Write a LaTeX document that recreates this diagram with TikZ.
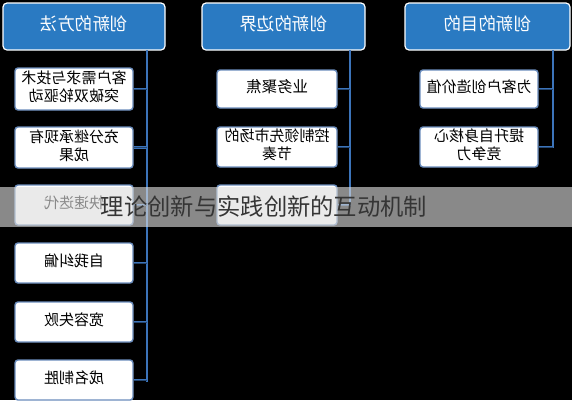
\documentclass[tikz,border=0pt]{standalone}
\usepackage{fontspec}
\usepackage{graphicx}
\newfontfamily\cjk{Noto Sans CJK SC}
\definecolor{hdrblue}{HTML}{2A7AC2}
\definecolor{linkblue}{HTML}{3C74BA}
\definecolor{boxedge}{HTML}{6A8CBC}
\definecolor{bandgray}{HTML}{DEDEDE}
\definecolor{bandtext}{HTML}{353535}
\newcommand\mirtxt[3]{\reflectbox{\fontsize{#1}{#2}\selectfont\begin{tabular}{@{}c@{}}#3\end{tabular}}}
\tikzset{
  hdr/.style={draw=white, line width=1.2pt, fill=hdrblue, rounded corners=4pt, text=white, font=\cjk, inner sep=0pt},
  itembox/.style={draw=boxedge, line width=1.4pt, fill=white, rounded corners=3pt, text=black, font=\cjk, inner sep=0pt, minimum width=118pt},
  trunk/.style={draw=linkblue, line width=2.4pt},
  stub/.style={draw=linkblue, double=linkblue!60!black, double distance=0.8pt, line width=0.8pt},
}
\begin{document}
\begin{tikzpicture}[x=1pt,y=-1pt]
\useasboundingbox (0,0) rectangle (572,400);
\fill[black] (0,0) rectangle (572,400);
% headers
\node[hdr, minimum width=162pt, minimum height=47pt] (h1) at (84,26.5) {\mirtxt{17.5}{20}{创新的方法}};
\node[hdr, minimum width=163pt, minimum height=47pt] (h2) at (283.5,26.5) {\mirtxt{17.5}{20}{创新的边界}};
\node[hdr, minimum width=165pt, minimum height=47pt] (h3) at (487.5,26.5) {\mirtxt{17.5}{20}{创新的目的}};
% trunk coordinates
\coordinate (t1a) at (147,50); \coordinate (t1b) at (147,382);
\coordinate (t2a) at (350,50); \coordinate (t2b) at (350,206);
\coordinate (t3a) at (553,50); \coordinate (t3b) at (553,148);
\draw[trunk] (t1a) -- (t1b);
\draw[trunk] (t2a) -- (t2b);
\draw[trunk] (t3a) -- (t3b);
% left column
\node[itembox, minimum height=42pt] (l1) at (74,89) {\mirtxt{15}{18}{客户需求与技术\\突破双轮驱动}};
\node[itembox, minimum height=41pt] (l2) at (74,147.5) {\mirtxt{15}{18}{充分继承现有\\成果}};
\node[itembox, minimum height=40pt] (l3) at (74,205) {\mirtxt{15}{18}{快速迭代}};
\node[itembox, minimum height=40pt] (l4) at (74,263) {\mirtxt{15}{18}{自我纠偏}};
\node[itembox, minimum height=40pt] (l5) at (74,322) {\mirtxt{15}{18}{宽容失败}};
\node[itembox, minimum height=40pt] (l6) at (74,380) {\mirtxt{15}{18}{成名制胜}};
% middle column
\node[itembox, minimum height=38pt, minimum width=120pt] (m1) at (277,89) {\mirtxt{15.5}{18}{业务聚焦}};
\node[itembox, minimum height=40pt, minimum width=120pt] (m2) at (277,147) {\mirtxt{15}{18}{控制领先市场的\\节奏}};
\node[itembox, minimum height=40pt, minimum width=120pt] (m3) at (277,205) {};
% right column
\node[itembox, minimum height=38pt] (r1) at (479,89) {\mirtxt{15}{18}{为客户创造价值}};
\node[itembox, minimum height=40pt] (r2) at (479,147) {\mirtxt{15}{18}{提升自身核心\\竞争力}};
% stubs
\foreach \b in {l1,l2,l3,l4,l5,l6} \draw[stub] (\b.east) -- (\b.east -| t1a);
\foreach \b in {m1,m2,m3} \draw[stub] (\b.east) -- (\b.east -| t2a);
\foreach \b in {r1,r2} \draw[stub] (\b.east) -- (\b.east -| t3a);
% banner
\coordinate (bandL) at (0,187); \coordinate (bandR) at (572,227);
\fill[bandgray, fill opacity=0.62] (bandL) rectangle (bandR);
\node[font=\cjk\fontsize{23.3}{26}\selectfont, text=bandtext, inner sep=0pt] (title) at (264,207) {理论创新与实践创新的互动机制};
\end{tikzpicture}
\end{document}
